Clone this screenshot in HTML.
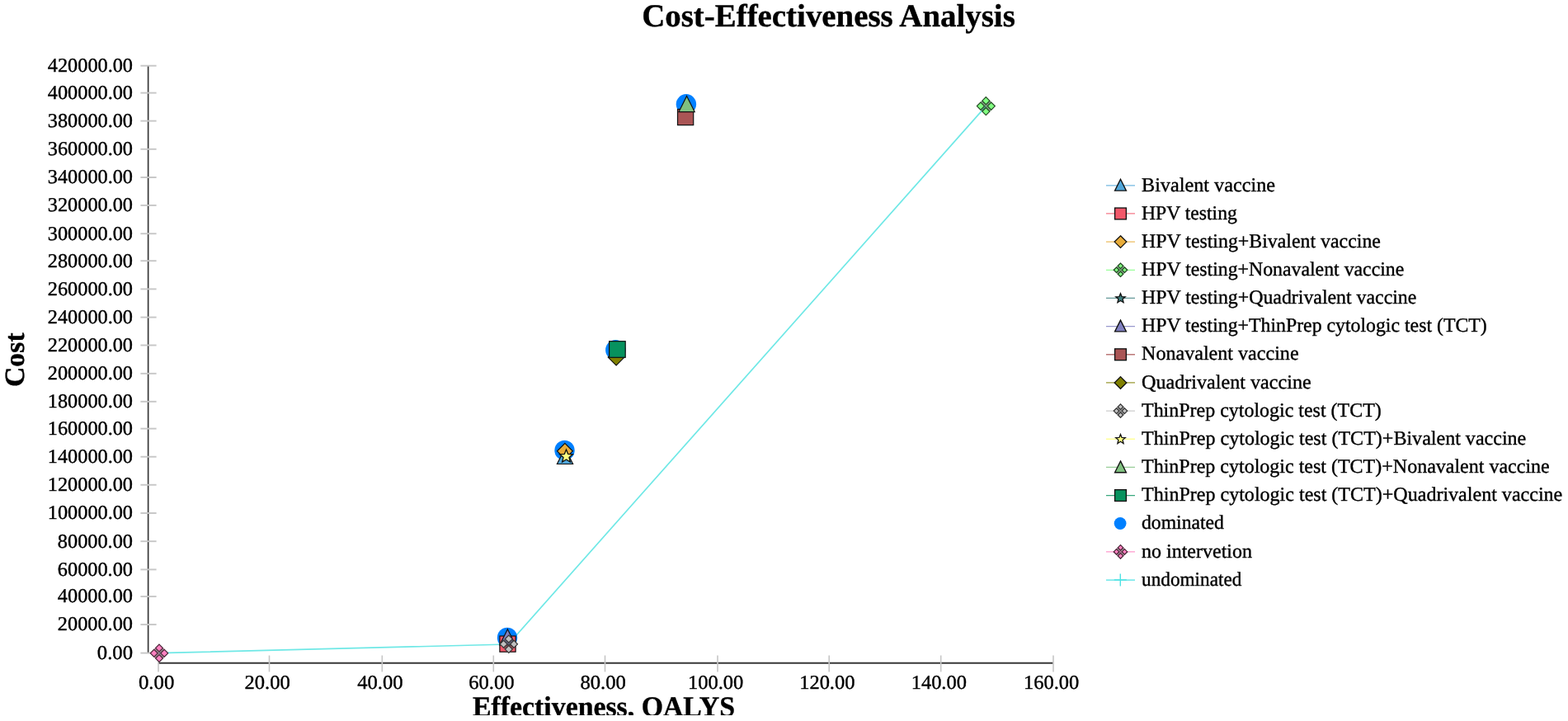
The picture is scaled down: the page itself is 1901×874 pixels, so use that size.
<!DOCTYPE html>
<html lang="en">
<head>
<meta charset="utf-8">
<title>Cost-Effectiveness Analysis</title>
<style>
html,body{margin:0;padding:0;background:#fff;}
body{width:1901px;height:874px;overflow:hidden;font-family:"Liberation Serif",serif;}
svg{display:block;}
svg text{font-family:"Liberation Serif",serif;fill:#000;stroke:#000;stroke-width:0.38px;text-rendering:geometricPrecision;}
.ttl{font-size:38.9px;font-weight:bold;}
.axt{font-size:33.8px;font-weight:bold;}
.tl text,.lg text{font-size:24px;}
</style>
</head>
<body>
<svg width="1901" height="874" viewBox="0 0 1901 874" role="img" aria-label="Cost-Effectiveness Analysis chart">
<rect width="1901" height="874" fill="#fff"/>
<text class="ttl" text-anchor="middle" transform="translate(1004.50 31.70) scale(1 1.0)">Cost-Effectiveness Analysis</text>
<text class="axt" transform="translate(28.9 436.2) rotate(-90)" text-anchor="middle">Cost</text>
<clipPath id="cx"><rect x="500" y="836" width="500" height="31"/></clipPath>
<g clip-path="url(#cx)"><text class="axt" text-anchor="middle" transform="translate(732.00 867.70) scale(1 1.02)">Effectiveness, QALYS</text></g>
<g stroke="#383838" fill="none">
<path d="M179.65 79.70V791.60" stroke-width="1.7"/>
<path d="M192.00 803.85H1276.90" stroke-width="2"/>
</g>
<g stroke="#c6c6c6" fill="none">
<path d="M170.4 791.60H189.6" stroke-width="1.9"/>
<path d="M170.4 757.10H189.6" stroke-width="1.9"/>
<path d="M170.4 723.10H189.6" stroke-width="1.9"/>
<path d="M170.4 690.40H189.6" stroke-width="1.9"/>
<path d="M170.4 656.20H189.6" stroke-width="1.9"/>
<path d="M170.4 622.00H189.6" stroke-width="1.9"/>
<path d="M170.4 587.75H189.6" stroke-width="1.9"/>
<path d="M170.4 553.70H189.6" stroke-width="1.9"/>
<path d="M170.4 519.60H189.6" stroke-width="1.9"/>
<path d="M170.4 486.80H189.6" stroke-width="1.9"/>
<path d="M170.4 452.80H189.6" stroke-width="1.9"/>
<path d="M170.4 418.50H189.6" stroke-width="1.9"/>
<path d="M170.4 384.60H189.6" stroke-width="1.9"/>
<path d="M170.4 350.40H189.6" stroke-width="1.9"/>
<path d="M170.4 316.20H189.6" stroke-width="1.9"/>
<path d="M170.4 283.25H189.6" stroke-width="1.9"/>
<path d="M170.4 248.90H189.6" stroke-width="1.9"/>
<path d="M170.4 215.00H189.6" stroke-width="1.9"/>
<path d="M170.4 180.80H189.6" stroke-width="1.9"/>
<path d="M170.4 146.60H189.6" stroke-width="1.9"/>
<path d="M170.4 112.60H189.6" stroke-width="1.9"/>
<path d="M170.4 79.70H189.6" stroke-width="1.9"/>
<path d="M192.00 794.5V814.4" stroke-width="1.6"/>
<path d="M326.50 794.5V814.4" stroke-width="1.6"/>
<path d="M463.30 794.5V814.4" stroke-width="1.6"/>
<path d="M598.30 794.5V814.4" stroke-width="1.6"/>
<path d="M733.50 794.5V814.4" stroke-width="1.6"/>
<path d="M870.00 794.5V814.4" stroke-width="1.6"/>
<path d="M1005.20 794.5V814.4" stroke-width="1.6"/>
<path d="M1140.70 794.5V814.4" stroke-width="1.6"/>
<path d="M1277.00 794.5V814.4" stroke-width="1.6"/>
</g>
<g class="tl">
<text text-anchor="end" textLength="43.20" lengthAdjust="spacingAndGlyphs" transform="translate(161.00 798.90) scale(1 1.0)">0.00</text>
<text text-anchor="end" textLength="91.20" lengthAdjust="spacingAndGlyphs" transform="translate(161.00 764.40) scale(1 1.0)">20000.00</text>
<text text-anchor="end" textLength="91.20" lengthAdjust="spacingAndGlyphs" transform="translate(161.00 730.40) scale(1 1.0)">40000.00</text>
<text text-anchor="end" textLength="91.20" lengthAdjust="spacingAndGlyphs" transform="translate(161.00 697.70) scale(1 1.0)">60000.00</text>
<text text-anchor="end" textLength="91.20" lengthAdjust="spacingAndGlyphs" transform="translate(161.00 663.50) scale(1 1.0)">80000.00</text>
<text text-anchor="end" textLength="103.20" lengthAdjust="spacingAndGlyphs" transform="translate(161.00 629.30) scale(1 1.0)">100000.00</text>
<text text-anchor="end" textLength="103.20" lengthAdjust="spacingAndGlyphs" transform="translate(161.00 595.05) scale(1 1.0)">120000.00</text>
<text text-anchor="end" textLength="103.20" lengthAdjust="spacingAndGlyphs" transform="translate(161.00 561.00) scale(1 1.0)">140000.00</text>
<text text-anchor="end" textLength="103.20" lengthAdjust="spacingAndGlyphs" transform="translate(161.00 526.90) scale(1 1.0)">160000.00</text>
<text text-anchor="end" textLength="103.20" lengthAdjust="spacingAndGlyphs" transform="translate(161.00 494.10) scale(1 1.0)">180000.00</text>
<text text-anchor="end" textLength="103.20" lengthAdjust="spacingAndGlyphs" transform="translate(161.00 460.10) scale(1 1.0)">200000.00</text>
<text text-anchor="end" textLength="103.20" lengthAdjust="spacingAndGlyphs" transform="translate(161.00 425.80) scale(1 1.0)">220000.00</text>
<text text-anchor="end" textLength="103.20" lengthAdjust="spacingAndGlyphs" transform="translate(161.00 391.90) scale(1 1.0)">240000.00</text>
<text text-anchor="end" textLength="103.20" lengthAdjust="spacingAndGlyphs" transform="translate(161.00 357.70) scale(1 1.0)">260000.00</text>
<text text-anchor="end" textLength="103.20" lengthAdjust="spacingAndGlyphs" transform="translate(161.00 323.50) scale(1 1.0)">280000.00</text>
<text text-anchor="end" textLength="103.20" lengthAdjust="spacingAndGlyphs" transform="translate(161.00 290.55) scale(1 1.0)">300000.00</text>
<text text-anchor="end" textLength="103.20" lengthAdjust="spacingAndGlyphs" transform="translate(161.00 256.20) scale(1 1.0)">320000.00</text>
<text text-anchor="end" textLength="103.20" lengthAdjust="spacingAndGlyphs" transform="translate(161.00 222.30) scale(1 1.0)">340000.00</text>
<text text-anchor="end" textLength="103.20" lengthAdjust="spacingAndGlyphs" transform="translate(161.00 188.10) scale(1 1.0)">360000.00</text>
<text text-anchor="end" textLength="103.20" lengthAdjust="spacingAndGlyphs" transform="translate(161.00 153.90) scale(1 1.0)">380000.00</text>
<text text-anchor="end" textLength="103.20" lengthAdjust="spacingAndGlyphs" transform="translate(161.00 119.90) scale(1 1.0)">400000.00</text>
<text text-anchor="end" textLength="103.20" lengthAdjust="spacingAndGlyphs" transform="translate(161.00 87.00) scale(1 1.0)">420000.00</text>
</g>
<g class="tl">
<text text-anchor="middle" textLength="43.30" lengthAdjust="spacingAndGlyphs" transform="translate(189.60 834.70) scale(1 1.0)">0.00</text>
<text text-anchor="middle" textLength="55.30" lengthAdjust="spacingAndGlyphs" transform="translate(324.10 834.70) scale(1 1.0)">20.00</text>
<text text-anchor="middle" textLength="55.30" lengthAdjust="spacingAndGlyphs" transform="translate(460.90 834.70) scale(1 1.0)">40.00</text>
<text text-anchor="middle" textLength="55.30" lengthAdjust="spacingAndGlyphs" transform="translate(595.90 834.70) scale(1 1.0)">60.00</text>
<text text-anchor="middle" textLength="55.30" lengthAdjust="spacingAndGlyphs" transform="translate(731.10 834.70) scale(1 1.0)">80.00</text>
<text text-anchor="middle" textLength="67.30" lengthAdjust="spacingAndGlyphs" transform="translate(867.60 834.70) scale(1 1.0)">100.00</text>
<text text-anchor="middle" textLength="67.30" lengthAdjust="spacingAndGlyphs" transform="translate(1002.80 834.70) scale(1 1.0)">120.00</text>
<text text-anchor="middle" textLength="67.30" lengthAdjust="spacingAndGlyphs" transform="translate(1138.30 834.70) scale(1 1.0)">140.00</text>
<text text-anchor="middle" textLength="67.30" lengthAdjust="spacingAndGlyphs" transform="translate(1274.60 834.70) scale(1 1.0)">160.00</text>
</g>
<path d="M192.9 791.7L616.3 781.0L1195.35 128.6" stroke="#6fe8e6" stroke-width="1.7" fill="none" stroke-linejoin="round"/>
<circle cx="831.90" cy="126.30" r="12.20" fill="#0080ff"/>
<rect x="821.50" y="132.40" width="19.20" height="19.20" fill="#aa5555" stroke="#111" stroke-width="1.2"/>
<path d="M832.60 116.40L842.20 135.60L823.00 135.60Z" fill="#80c080" stroke="#111" stroke-width="1.2" stroke-linejoin="miter"/>
<circle cx="746.30" cy="424.20" r="12.20" fill="#0080ff"/>
<path d="M747.50 416.20L749.65 421.55L755.39 421.94L750.97 425.63L752.38 431.21L747.50 428.15L742.62 431.21L744.03 425.63L739.61 421.94L745.35 421.55Z" fill="#408080" stroke="#111" stroke-width="1.3" stroke-linejoin="miter"/>
<path d="M747.10 423.20L757.00 433.10L747.10 443.00L737.20 433.10Z" fill="#808000" stroke="#111" stroke-width="1.2"/>
<rect x="738.60" y="413.70" width="19.60" height="19.60" fill="#07925e" stroke="#111" stroke-width="1.2"/>
<circle cx="684.50" cy="545.90" r="12.20" fill="#0080ff"/>
<path d="M685.00 543.30L694.60 562.50L675.40 562.50Z" fill="#50a6da" stroke="#111" stroke-width="1.2" stroke-linejoin="miter"/>
<path d="M684.90 537.40L694.30 546.80L684.90 556.20L675.50 546.80Z" fill="#e8ac39" stroke="#111" stroke-width="1.2"/>
<path d="M686.50 545.00L688.65 550.35L694.39 550.74L689.97 554.43L691.38 560.01L686.50 556.95L681.62 560.01L683.03 554.43L678.61 550.74L684.35 550.35Z" fill="#ffff80" stroke="#111" stroke-width="1.3" stroke-linejoin="miter"/>
<circle cx="615.00" cy="773.00" r="12.20" fill="#0080ff"/>
<rect x="605.90" y="771.00" width="19.20" height="19.20" fill="#f2586a" stroke="#111" stroke-width="1.2"/>
<path d="M615.40 762.70L625.00 781.90L605.80 781.90Z" fill="#8080c0" stroke="#111" stroke-width="1.2" stroke-linejoin="miter"/>
<path d="M616.80 769.50L628.10 780.80L616.80 792.10L605.50 780.80Z" fill="rgba(73,73,73,0.62)"/><path d="M616.80 770.12L621.21 774.53L616.80 778.94L612.39 774.53Z" fill="#c0c0c0" stroke="#363636" stroke-width="1.1"/><path d="M610.53 776.39L614.94 780.80L610.53 785.21L606.12 780.80Z" fill="#c0c0c0" stroke="#363636" stroke-width="1.1"/><path d="M623.07 776.39L627.48 780.80L623.07 785.21L618.66 780.80Z" fill="#c0c0c0" stroke="#363636" stroke-width="1.1"/><path d="M616.80 782.66L621.21 787.07L616.80 791.48L612.39 787.07Z" fill="#c0c0c0" stroke="#363636" stroke-width="1.1"/>
<path d="M193.00 780.50L204.30 791.80L193.00 803.10L181.70 791.80Z" fill="rgba(97,49,73,0.62)"/><path d="M193.00 781.12L197.41 785.53L193.00 789.94L188.59 785.53Z" fill="#ff80c0" stroke="#472436" stroke-width="1.1"/><path d="M186.73 787.39L191.14 791.80L186.73 796.21L182.32 791.80Z" fill="#ff80c0" stroke="#472436" stroke-width="1.1"/><path d="M199.27 787.39L203.68 791.80L199.27 796.21L194.86 791.80Z" fill="#ff80c0" stroke="#472436" stroke-width="1.1"/><path d="M193.00 793.66L197.41 798.07L193.00 802.48L188.59 798.07Z" fill="#ff80c0" stroke="#472436" stroke-width="1.1"/>
<path d="M1195.35 117.00L1206.95 128.60L1195.35 140.20L1183.75 128.60Z" fill="rgba(49,97,49,0.62)"/><path d="M1195.35 117.64L1199.87 122.16L1195.35 126.69L1190.83 122.16Z" fill="#80ff80" stroke="#244724" stroke-width="1.1"/><path d="M1188.91 124.08L1193.44 128.60L1188.91 133.12L1184.39 128.60Z" fill="#80ff80" stroke="#244724" stroke-width="1.1"/><path d="M1201.79 124.08L1206.31 128.60L1201.79 133.12L1197.26 128.60Z" fill="#80ff80" stroke="#244724" stroke-width="1.1"/><path d="M1195.35 130.51L1199.87 135.04L1195.35 139.56L1190.83 135.04Z" fill="#80ff80" stroke="#244724" stroke-width="1.1"/>
<g class="lg">
<path d="M1341 224.80H1376" stroke="#73b8e1" stroke-width="1.3" fill="none"/>
<path d="M1358.50 217.30L1365.40 231.10L1351.60 231.10Z" fill="#50a6da" stroke="#111" stroke-width="1.35" stroke-linejoin="miter"/>
<text textLength="161.99" lengthAdjust="spacingAndGlyphs" transform="translate(1384.00 231.50) scale(1 1.0)">Bivalent vaccine</text>
<path d="M1341 258.96H1376" stroke="#f57988" stroke-width="1.3" fill="none"/>
<rect x="1351.60" y="252.06" width="13.80" height="13.80" fill="#f2586a" stroke="#111" stroke-width="1.35"/>
<text textLength="115.78" lengthAdjust="spacingAndGlyphs" transform="translate(1384.00 265.66) scale(1 1.0)">HPV testing</text>
<path d="M1341 293.12H1376" stroke="#edbd61" stroke-width="1.3" fill="none"/>
<path d="M1358.50 285.82L1365.80 293.12L1358.50 300.42L1351.20 293.12Z" fill="#e8ac39" stroke="#111" stroke-width="1.3"/>
<text textLength="289.91" lengthAdjust="spacingAndGlyphs" transform="translate(1384.00 299.82) scale(1 1.0)">HPV testing+Bivalent vaccine</text>
<path d="M1341 327.28H1376" stroke="#99ff99" stroke-width="1.3" fill="none"/>
<path d="M1358.50 318.28L1367.50 327.28L1358.50 336.28L1349.50 327.28Z" fill="rgba(49,97,49,0.55)"/><path d="M1358.50 319.09L1361.74 322.33L1358.50 325.57L1355.26 322.33Z" fill="#80ff80" stroke="#244724" stroke-width="1.2"/><path d="M1353.55 324.04L1356.79 327.28L1353.55 330.52L1350.31 327.28Z" fill="#80ff80" stroke="#244724" stroke-width="1.2"/><path d="M1363.45 324.04L1366.69 327.28L1363.45 330.52L1360.21 327.28Z" fill="#80ff80" stroke="#244724" stroke-width="1.2"/><path d="M1358.50 328.99L1361.74 332.23L1358.50 335.47L1355.26 332.23Z" fill="#80ff80" stroke="#244724" stroke-width="1.2"/>
<text textLength="318.31" lengthAdjust="spacingAndGlyphs" transform="translate(1384.00 333.98) scale(1 1.0)">HPV testing+Nonavalent vaccine</text>
<path d="M1341 361.44H1376" stroke="#669999" stroke-width="1.3" fill="none"/>
<path d="M1358.50 355.64L1360.08 359.57L1364.30 359.85L1361.05 362.57L1362.09 366.68L1358.50 364.42L1354.91 366.68L1355.95 362.57L1352.70 359.85L1356.92 359.57Z" fill="#408080" stroke="#111" stroke-width="1.3" stroke-linejoin="miter"/>
<text textLength="333.37" lengthAdjust="spacingAndGlyphs" transform="translate(1384.00 368.14) scale(1 1.0)">HPV testing+Quadrivalent vaccine</text>
<path d="M1341 395.60H1376" stroke="#9999cd" stroke-width="1.3" fill="none"/>
<path d="M1358.50 388.10L1365.40 401.90L1351.60 401.90Z" fill="#8080c0" stroke="#111" stroke-width="1.35" stroke-linejoin="miter"/>
<text textLength="418.78" lengthAdjust="spacingAndGlyphs" transform="translate(1384.00 402.30) scale(1 1.0)">HPV testing+ThinPrep cytologic test (TCT)</text>
<path d="M1341 429.76H1376" stroke="#bb7777" stroke-width="1.3" fill="none"/>
<rect x="1351.60" y="422.86" width="13.80" height="13.80" fill="#aa5555" stroke="#111" stroke-width="1.35"/>
<text textLength="190.60" lengthAdjust="spacingAndGlyphs" transform="translate(1384.00 436.46) scale(1 1.0)">Nonavalent vaccine</text>
<path d="M1341 463.92H1376" stroke="#999933" stroke-width="1.3" fill="none"/>
<path d="M1358.50 456.62L1365.80 463.92L1358.50 471.22L1351.20 463.92Z" fill="#808000" stroke="#111" stroke-width="1.3"/>
<text textLength="205.66" lengthAdjust="spacingAndGlyphs" transform="translate(1384.00 470.62) scale(1 1.0)">Quadrivalent vaccine</text>
<path d="M1341 498.08H1376" stroke="#cdcdcd" stroke-width="1.3" fill="none"/>
<path d="M1358.50 489.08L1367.50 498.08L1358.50 507.08L1349.50 498.08Z" fill="rgba(73,73,73,0.55)"/><path d="M1358.50 489.89L1361.74 493.13L1358.50 496.37L1355.26 493.13Z" fill="#c0c0c0" stroke="#363636" stroke-width="1.2"/><path d="M1353.55 494.84L1356.79 498.08L1353.55 501.32L1350.31 498.08Z" fill="#c0c0c0" stroke="#363636" stroke-width="1.2"/><path d="M1363.45 494.84L1366.69 498.08L1363.45 501.32L1360.21 498.08Z" fill="#c0c0c0" stroke="#363636" stroke-width="1.2"/><path d="M1358.50 499.79L1361.74 503.03L1358.50 506.27L1355.26 503.03Z" fill="#c0c0c0" stroke="#363636" stroke-width="1.2"/>
<text textLength="290.77" lengthAdjust="spacingAndGlyphs" transform="translate(1384.00 504.78) scale(1 1.0)">ThinPrep cytologic test (TCT)</text>
<path d="M1341 532.24H1376" stroke="#ffff99" stroke-width="1.3" fill="none"/>
<path d="M1358.50 526.44L1360.08 530.37L1364.30 530.65L1361.05 533.37L1362.09 537.48L1358.50 535.22L1354.91 537.48L1355.95 533.37L1352.70 530.65L1356.92 530.37Z" fill="#ffff80" stroke="#111" stroke-width="1.3" stroke-linejoin="miter"/>
<text textLength="466.30" lengthAdjust="spacingAndGlyphs" transform="translate(1384.00 538.94) scale(1 1.0)">ThinPrep cytologic test (TCT)+Bivalent vaccine</text>
<path d="M1341 566.40H1376" stroke="#99cd99" stroke-width="1.3" fill="none"/>
<path d="M1358.50 558.90L1365.40 572.70L1351.60 572.70Z" fill="#80c080" stroke="#111" stroke-width="1.35" stroke-linejoin="miter"/>
<text textLength="494.71" lengthAdjust="spacingAndGlyphs" transform="translate(1384.00 573.10) scale(1 1.0)">ThinPrep cytologic test (TCT)+Nonavalent vaccine</text>
<path d="M1341 600.56H1376" stroke="#39a87e" stroke-width="1.3" fill="none"/>
<rect x="1351.60" y="593.66" width="13.80" height="13.80" fill="#07925e" stroke="#111" stroke-width="1.35"/>
<text textLength="510.27" lengthAdjust="spacingAndGlyphs" transform="translate(1384.00 607.26) scale(1 1.0)">ThinPrep cytologic test (TCT)+Quadrivalent vaccine</text>
<circle cx="1358.10" cy="634.52" r="7.40" fill="#0080ff"/>
<text textLength="99.91" lengthAdjust="spacingAndGlyphs" transform="translate(1384.00 641.42) scale(1 1.0)">dominated</text>
<path d="M1341 668.88H1376" stroke="#ff99cd" stroke-width="1.3" fill="none"/>
<path d="M1358.50 659.88L1367.50 668.88L1358.50 677.88L1349.50 668.88Z" fill="rgba(97,49,73,0.55)"/><path d="M1358.50 660.69L1361.74 663.93L1358.50 667.17L1355.26 663.93Z" fill="#ff80c0" stroke="#472436" stroke-width="1.2"/><path d="M1353.55 665.64L1356.79 668.88L1353.55 672.12L1350.31 668.88Z" fill="#ff80c0" stroke="#472436" stroke-width="1.2"/><path d="M1363.45 665.64L1366.69 668.88L1363.45 672.12L1360.21 668.88Z" fill="#ff80c0" stroke="#472436" stroke-width="1.2"/><path d="M1358.50 670.59L1361.74 673.83L1358.50 677.07L1355.26 673.83Z" fill="#ff80c0" stroke="#472436" stroke-width="1.2"/>
<text textLength="133.97" lengthAdjust="spacingAndGlyphs" transform="translate(1384.00 675.58) scale(1 1.0)">no intervetion</text>
<path d="M1341 703.04H1376" stroke="#4fe2e4" stroke-width="1.3" fill="none"/>
<path d="M1358.30 695.54V710.54M1350.80 703.04H1365.80" stroke="#4fe2e4" stroke-width="1.4" fill="none"/>
<text textLength="121.41" lengthAdjust="spacingAndGlyphs" transform="translate(1384.00 709.74) scale(1 1.0)">undominated</text>
</g>
</svg>
</body>
</html>
